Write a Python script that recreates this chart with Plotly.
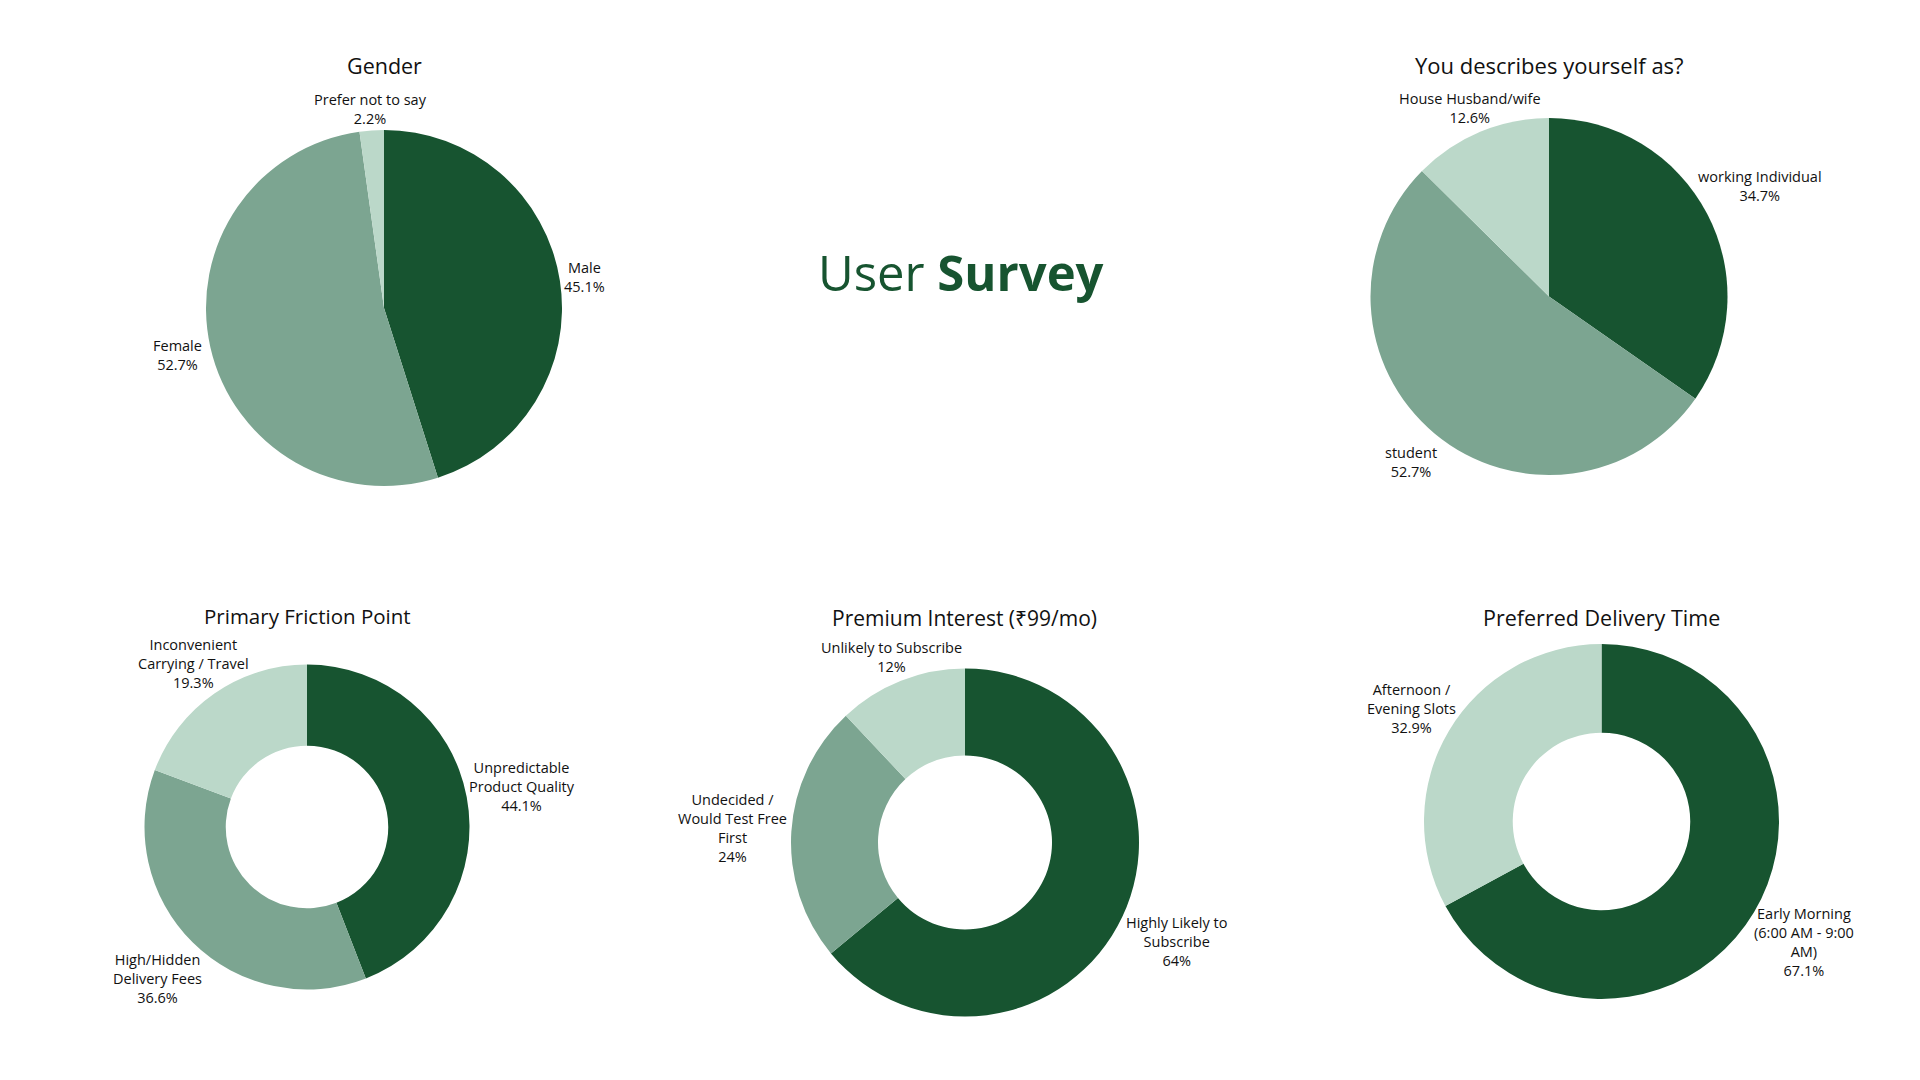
import math
import plotly.graph_objects as go

# ---- data ----
gender_labels = ["Male", "Female", "Prefer not to say"]
gender_values = [45.1, 52.7, 2.2]

role_labels = ["working Individual", "student", "House Husband/wife"]
role_values = [34.7, 52.7, 12.6]

friction_labels = ["Unpredictable<br>Product Quality", "High/Hidden<br>Delivery Fees",
                   "Inconvenient<br>Carrying / Travel"]
friction_values = [44.1, 36.6, 19.3]

premium_labels = ["Highly Likely to<br>Subscribe", "Undecided /<br>Would Test Free<br>First",
                  "Unlikely to Subscribe"]
premium_values = [64, 24, 12]

delivery_labels = ["Early Morning<br>(6:00 AM - 9:00<br>AM)", "Afternoon /<br>Evening Slots"]
delivery_values = [67.1, 32.9]

titles = ["Gender", "You describes yourself as?", "Primary Friction Point",
          "Premium Interest (₹99/mo)", "Preferred Delivery Time"]

# ---- style ----
W, H = 1920, 1080
DARK, MID, LIGHT = "#175430", "#7CA591", "#BBD8C9"
FONT = "Open Sans"
LBL_SIZE = 14.5

# approximate Open Sans advance widths (em) used only for label placement
CW = {" ": .26, "%": .82, "(": .30, ")": .30, "-": .32, ".": .27, "/": .37, ":": .27,
      "A": .63, "B": .65, "C": .63, "D": .73, "E": .56, "F": .52, "H": .74, "I": .27,
      "L": .52, "M": .90, "P": .60, "Q": .78, "S": .55, "T": .55, "U": .73, "W": .93,
      "a": .56, "b": .61, "c": .48, "d": .61, "e": .56, "f": .34, "g": .54, "h": .61,
      "i": .25, "j": .25, "k": .53, "l": .25, "m": .93, "n": .61, "o": .60, "p": .61,
      "q": .61, "r": .41, "s": .48, "t": .35, "u": .61, "v": .50, "w": .78, "y": .50}


def text_w(line, size):
    return sum(CW.get(ch, .57) for ch in line) * size


def dom(cx, cy, r):
    return dict(x=[(cx - r) / W, (cx + r) / W], y=[1 - (cy + r) / H, 1 - (cy - r) / H])


charts = [
    (gender_labels, gender_values, [DARK, MID, LIGHT], 0, (384, 308, 178), 65, 21.5),
    (role_labels, role_values, [DARK, MID, LIGHT], 0, (1549, 296.5, 178.5), 65, 22),
    (friction_labels, friction_values, [DARK, MID, LIGHT], 0.5, (307, 827, 162.5), 616, 20.5),
    (premium_labels, premium_values, [DARK, MID, LIGHT], 0.5, (965, 842.5, 174), 618, 21),
    (delivery_labels, delivery_values, [DARK, LIGHT], 0.5, (1601.5, 821.5, 177.5), 617, 21.5),
]

fig = go.Figure()
annotations = []
for (labels, values, colors, hole, (cx, cy, r), ty, tsize), title in zip(charts, titles):
    fig.add_trace(go.Pie(
        labels=labels, values=values, sort=False, direction="clockwise", rotation=0,
        hole=hole, domain=dom(cx, cy, r),
        marker=dict(colors=colors, line=dict(width=0)),
        textinfo="none", showlegend=False, hoverinfo="label+percent",
    ))
    annotations.append(dict(
        text=title, x=cx / W, y=1 - ty / H, xref="paper", yref="paper",
        xanchor="center", yanchor="middle", showarrow=False,
        font=dict(family=FONT, size=tsize, color="#111111"),
    ))
    # outside slice labels, placed along each slice's mid-angle
    total = float(sum(values))
    cum = 0.0
    for lab, v in zip(labels, values):
        pct = v / total * 100
        theta = math.radians(360 * (cum + v / 2) / total)
        cum += v
        ux, uy = math.sin(theta), -math.cos(theta)
        text = f"{lab}<br>{pct:.3g}%"
        lines = text.split("<br>")
        hw = max(text_w(s, LBL_SIZE) for s in lines) / 2
        hh = len(lines) * 8.5
        term = max(abs(ux) * hw, abs(uy) * hh)
        if abs(uy) > 0.85:
            term = min(term, hh / abs(uy) + 2)
        dist = r + 5 + 20 * max(uy, 0) + term
        px, py = cx + ux * dist, cy + uy * dist
        annotations.append(dict(
            text=text, x=px / W, y=1 - py / H, xref="paper", yref="paper",
            xanchor="center", yanchor="middle", align="center", showarrow=False,
            font=dict(family=FONT, size=LBL_SIZE, color="#111111"),
        ))

annotations.append(dict(
    text="User <b>Survey</b>", x=961 / W, y=1 - 272 / H, xref="paper", yref="paper",
    xanchor="center", yanchor="middle", showarrow=False,
    font=dict(family=FONT, size=49, color=DARK),
))

fig.update_layout(
    width=W, height=H, margin=dict(l=0, r=0, t=0, b=0),
    paper_bgcolor="white", plot_bgcolor="white",
    annotations=annotations,
)

fig.write_html("out.html")
